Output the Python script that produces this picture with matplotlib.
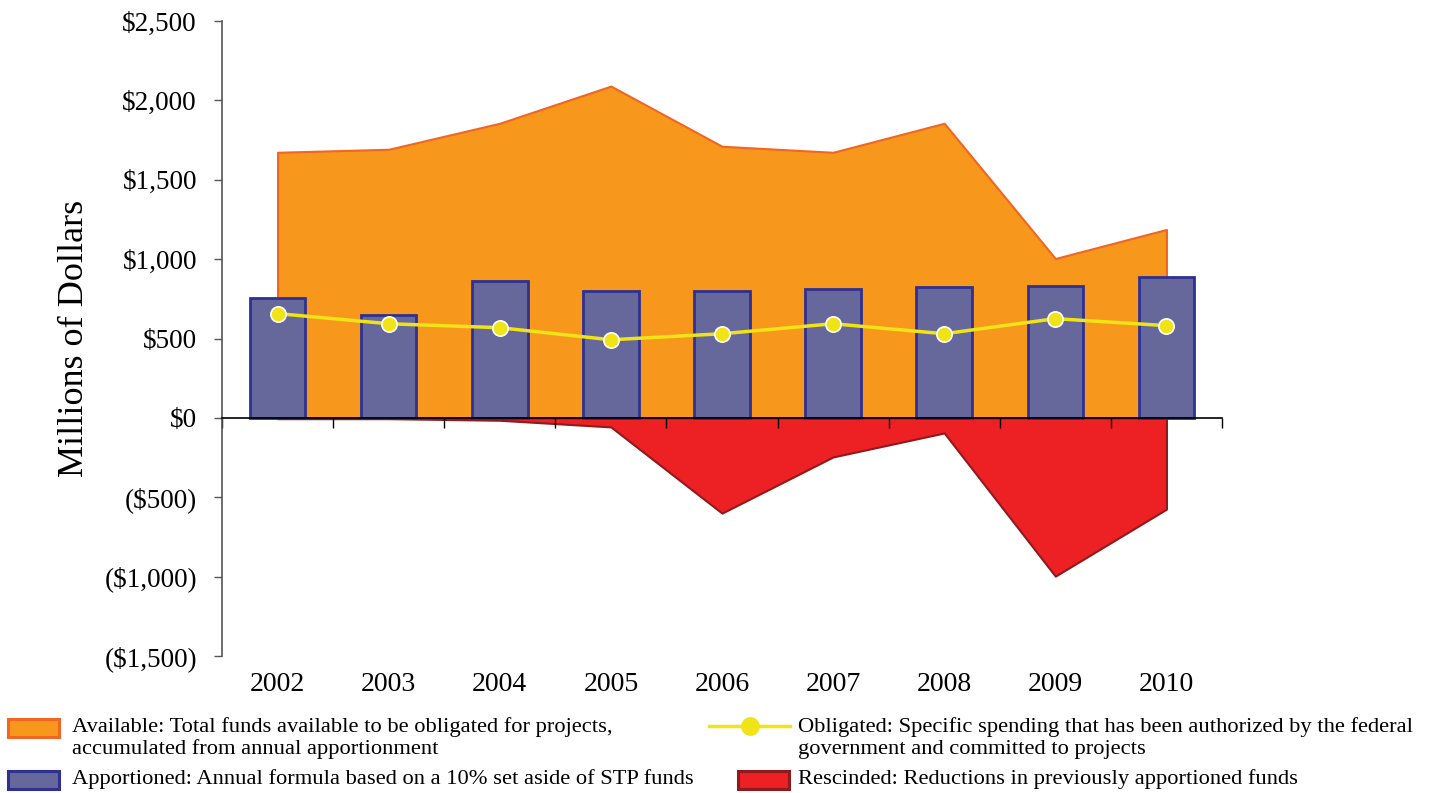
import matplotlib
matplotlib.use("Agg")
import matplotlib.pyplot as plt
import matplotlib.transforms as mtransforms
from matplotlib.patches import Rectangle
from matplotlib.lines import Line2D
import numpy as np

years = ["2002", "2003", "2004", "2005", "2006", "2007", "2008", "2009", "2010"]
available = [1673, 1692, 1856, 2090, 1711, 1673, 1856, 1004, 1187]
apportioned = [758, 650, 865, 802, 802, 814, 827, 833, 890]
obligated = [657, 593, 568, 492, 530, 593, 530, 625, 581]
rescinded = [-5, -5, -15, -57, -600, -246, -95, -997, -575]
y_ticks = [-1500, -1000, -500, 0, 500, 1000, 1500, 2000, 2500]
y_tick_labels = ["($1,500)", "($1,000)", "($500)", "$0", "$500", "$1,000", "$1,500", "$2,000", "$2,500"]

label_available = ["Available: Total funds available to be obligated for projects,",
                   "accumulated from annual apportionment"]
label_apportioned = ["Apportioned: Annual formula based on a 10% set aside of STP funds"]
label_obligated = ["Obligated: Specific spending that has been authorized by the federal",
                   "government and committed to projects"]
label_rescinded = ["Rescinded: Reductions in previously apportioned funds"]

ORANGE = "#F7981D"
ORANGE_EDGE = "#F26522"
BLUE = "#66689C"
BLUE_EDGE = "#2E3192"
YELLOW = "#F0E416"
RED = "#ED2024"
RED_EDGE = "#8E1B1E"

plt.rcParams["font.family"] = ["Liberation Serif", "DejaVu Serif"]

W, H = 1432, 793
fig = plt.figure(figsize=(W / 100, H / 100), dpi=100)
ax = fig.add_axes([222 / W, 1 - 656 / H, 1000 / W, 635 / H])

x = np.arange(len(years))
ax.fill_between(x, 0, available, facecolor=ORANGE, edgecolor=ORANGE_EDGE, linewidth=1.5, zorder=1)
ax.fill_between(x, rescinded, 0, facecolor=RED, edgecolor=RED_EDGE, linewidth=1.5, zorder=1)
ax.bar(x, apportioned, width=0.5, color=BLUE, edgecolor=BLUE_EDGE, linewidth=2, zorder=3)
ax.plot(x, obligated, color=YELLOW, linewidth=2.5, marker="o", markersize=11,
        markerfacecolor=YELLOW, markeredgecolor="white", markeredgewidth=1.2, zorder=5)

ax.set_xlim(-0.5, 8.5)
ax.set_ylim(-1500, 2500)

for s in ["top", "right"]:
    ax.spines[s].set_visible(False)
ax.spines["bottom"].set_position(("data", 0))
ax.spines["bottom"].set_color("black")
ax.spines["bottom"].set_linewidth(1.2)
ax.spines["bottom"].set_zorder(4)
ax.spines["left"].set_color("#555555")
ax.spines["left"].set_linewidth(1.2)

ax.set_yticks(y_ticks)
ax.set_yticklabels(y_tick_labels, fontsize=19.5)
ax.tick_params(axis="y", direction="out", length=6, width=1, color="#555555", pad=12)

ax.set_xticks([])
ax.set_xticks(np.arange(-0.5, 9.0, 1.0), minor=True)
ax.tick_params(axis="x", which="minor", direction="out", length=7, width=1, color="black", labelbottom=False)

trans = mtransforms.blended_transform_factory(ax.transData, ax.transAxes)
for xi, yr in zip(x, years):
    ax.text(xi, -0.045, yr, transform=trans, ha="center", va="center", fontsize=20)

ax.set_ylabel("Millions of Dollars", fontsize=26)
ax.yaxis.set_label_coords(-0.131, 0.5)


# ---- manual legend (figure pixel coordinates) ----
def fx(px):
    return px / W


def fy(py):
    return 1 - py / H


def rect(x0, y0, x1, y1, fc, ec):
    fig.add_artist(Rectangle((fx(x0), fy(y1)), fx(x1) - fx(x0), fy(y0) - fy(y1),
                             facecolor=fc, edgecolor=ec, linewidth=2.2,
                             transform=fig.transFigure))


def lines_text(x0, y0, lines, step=22.5):
    for i, ln in enumerate(lines):
        fig.text(fx(x0), fy(y0 + i * step), ln, ha="left", va="center", fontsize=16.2)


rect(8, 719, 59, 737, ORANGE, ORANGE_EDGE)
lines_text(72, 727, label_available)
rect(8, 771, 59, 789, BLUE, BLUE_EDGE)
lines_text(72, 779, label_apportioned)

fig.add_artist(Line2D([fx(709), fx(790)], [fy(726), fy(726)], color=YELLOW, linewidth=2.5,
                      transform=fig.transFigure))
fig.add_artist(Line2D([fx(750)], [fy(726)], marker="o", markersize=12.5, color=YELLOW,
                      markeredgecolor=YELLOW, linestyle="none", transform=fig.transFigure))
lines_text(798, 727, label_obligated)
rect(738, 771, 789, 789, RED, RED_EDGE)
lines_text(798, 779, label_rescinded)

fig.savefig("out.png", dpi=100)
